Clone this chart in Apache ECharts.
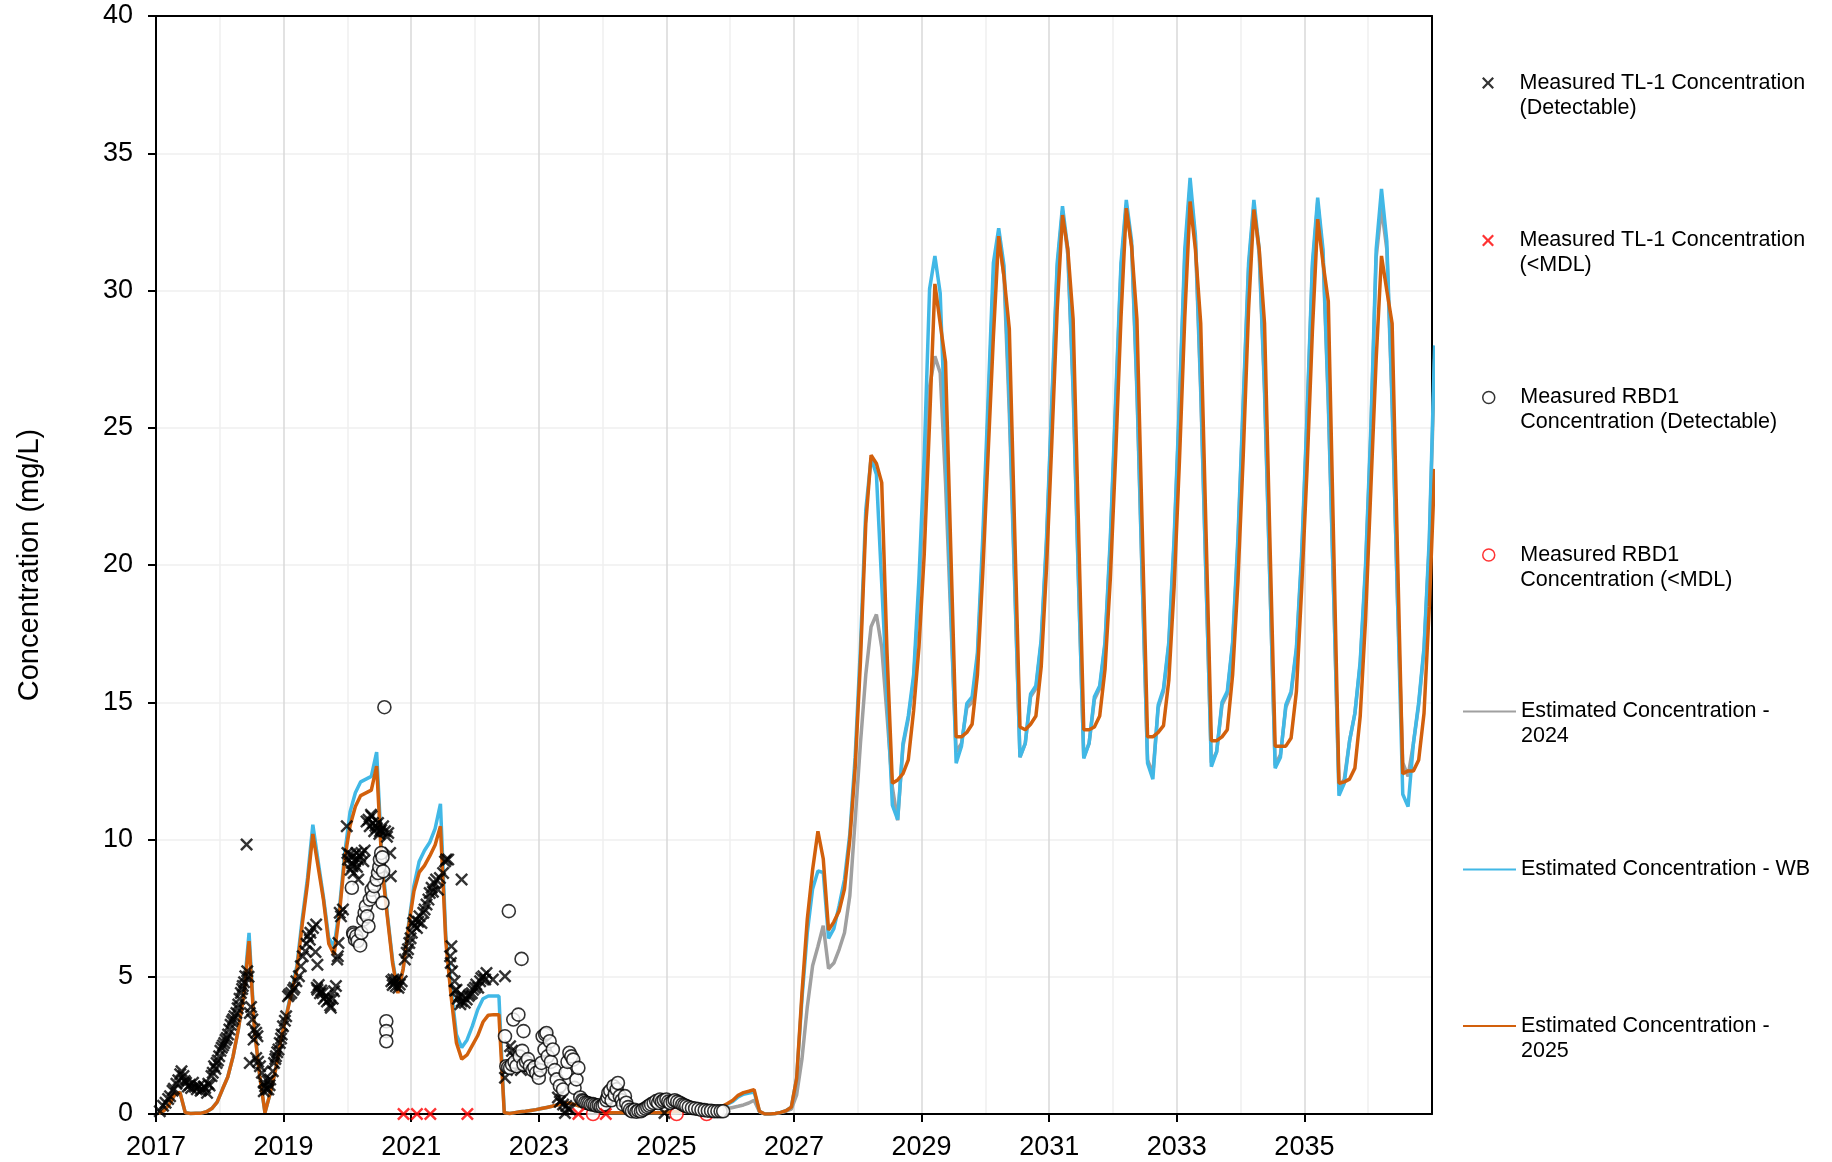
<!DOCTYPE html>
<html>
<head>
<meta charset="utf-8">
<script src="https://cdn.jsdelivr.net/npm/echarts@6/dist/echarts.min.js"></script>
<style>
  html, body { margin: 0; padding: 0; background: #ffffff; }
  #chart { width: 1832px; height: 1162px; }
</style>
</head>
<body>
<div id="chart"></div>
<script>
// ---- Monthly model estimates (mg/L), one value per month, mid-month ----
const EST_START_YEAR = 2017;          // est2025 and estWB start in January 2017
const est2025 = [
  0.02, 0.12, 0.35, 0.70, 0.79, 0.05, 0.02, 0.03, 0.03, 0.08, 0.20, 0.43,   // 2017
  0.90, 1.35, 2.10, 3.10, 4.30, 6.30, 3.10, 1.40, 0.05, 0.77, 1.62, 2.71,   // 2018
  3.56, 4.41, 5.26, 6.90, 8.40, 10.20, 9.00, 7.80, 6.20, 5.80, 7.30, 9.30,  // 2019
  10.50, 11.20, 11.60, 11.70, 11.80, 12.67, 9.00, 7.20, 5.50, 4.40, 5.30, 6.80, // 2020
  8.10, 8.80, 9.05, 9.40, 9.80, 10.48, 6.30, 4.30, 2.60, 2.00, 2.15, 2.50,  // 2021
  2.85, 3.35, 3.60, 3.62, 3.62, 0.05, 0.02, 0.05, 0.08, 0.10, 0.13, 0.16,   // 2022
  0.20, 0.24, 0.28, 0.33, 0.38, 0.40, 0.36, 0.30, 0.24, 0.18, 0.12, 0.08,   // 2023
  0.06, 0.05, 0.05, 0.05, 0.05, 0.05, 0.05, 0.05, 0.05, 0.05, 0.05, 0.06,   // 2024
  0.07, 0.08, 0.09, 0.10, 0.10, 0.10, 0.10, 0.12, 0.15, 0.20, 0.28, 0.38,   // 2025
  0.50, 0.68, 0.78, 0.83, 0.89, 0.10, 0.00, 0.00, 0.02, 0.06, 0.12, 0.25,   // 2026
  1.30, 4.40, 7.10, 8.90, 10.30, 9.30, 6.70, 7.00, 7.40, 8.20, 10.00, 12.60, // 2027
  16.50, 21.50, 24.00, 23.70, 23.00, 16.80, 12.05, 12.17, 12.40, 12.90, 14.70, 17.00, // 2028
  20.40, 25.20, 30.24, 28.80, 27.40, 20.50, 13.74, 13.74, 13.90, 14.20, 16.00, 19.70, // 2029
  24.00, 28.30, 31.98, 30.50, 28.60, 21.30, 14.10, 14.00, 14.20, 14.50, 16.30, 19.90, // 2030
  24.50, 29.30, 32.75, 31.50, 28.96, 21.50, 14.00, 14.00, 14.10, 14.50, 16.20, 19.50, // 2031
  24.00, 29.00, 33.00, 31.60, 28.96, 21.30, 13.74, 13.74, 13.90, 14.15, 15.80, 19.20, // 2032
  23.80, 29.00, 33.24, 31.50, 28.80, 21.20, 13.60, 13.60, 13.74, 14.00, 16.00, 19.40, // 2033
  24.00, 29.30, 32.95, 31.50, 28.80, 21.00, 13.40, 13.40, 13.40, 13.70, 15.40, 19.20, // 2034
  23.50, 28.50, 32.60, 31.00, 29.60, 20.80, 12.05, 12.10, 12.20, 12.60, 14.50, 18.00, // 2035
  22.80, 27.50, 31.26, 30.00, 28.80, 20.50, 12.40, 12.50, 12.50, 12.90, 14.60, 18.50, // 2036
  23.50                                                                      // 2037
];
const estWB = [
  0.02, 0.12, 0.35, 0.70, 0.79, 0.05, 0.02, 0.03, 0.03, 0.08, 0.20, 0.43,   // 2017
  0.90, 1.35, 2.10, 3.10, 4.40, 6.60, 3.20, 1.40, 0.05, 0.77, 1.62, 2.71,   // 2018
  3.60, 4.50, 5.40, 7.10, 8.60, 10.54, 9.20, 7.90, 6.40, 6.10, 7.50, 9.50,  // 2019
  11.00, 11.70, 12.10, 12.20, 12.30, 13.18, 9.30, 7.30, 5.60, 4.45, 5.30, 6.90, // 2020
  8.30, 9.20, 9.60, 9.90, 10.40, 11.30, 6.50, 4.60, 2.90, 2.42, 2.70, 3.20, // 2021
  3.80, 4.20, 4.30, 4.30, 4.30, 0.05, 0.02, 0.05, 0.08, 0.10, 0.13, 0.16,   // 2022
  0.20, 0.24, 0.28, 0.33, 0.38, 0.40, 0.36, 0.30, 0.24, 0.18, 0.12, 0.08,   // 2023
  0.06, 0.05, 0.05, 0.05, 0.05, 0.05, 0.05, 0.05, 0.05, 0.05, 0.05, 0.06,   // 2024
  0.07, 0.08, 0.09, 0.10, 0.10, 0.10, 0.10, 0.12, 0.15, 0.20, 0.27, 0.36,   // 2025
  0.46, 0.62, 0.72, 0.76, 0.80, 0.10, 0.00, 0.00, 0.02, 0.06, 0.12, 0.25,   // 2026
  1.30, 4.20, 6.60, 8.20, 8.85, 8.80, 6.40, 6.75, 7.60, 8.55, 10.20, 13.00, // 2027
  17.00, 22.00, 23.90, 23.30, 19.30, 15.30, 11.25, 10.72, 13.50, 14.50, 16.00, 19.50, // 2028
  24.00, 30.05, 31.26, 29.90, 24.50, 18.50, 12.78, 13.40, 14.95, 15.20, 16.80, 21.00, // 2029
  26.00, 31.00, 32.27, 30.90, 26.00, 19.50, 13.00, 13.50, 15.30, 15.60, 17.30, 21.00, // 2030
  26.00, 31.00, 33.07, 31.50, 26.50, 19.50, 12.95, 13.50, 15.20, 15.60, 17.20, 21.00, // 2031
  26.00, 31.00, 33.30, 31.80, 26.50, 19.50, 12.78, 12.20, 14.90, 15.50, 17.20, 21.00, // 2032
  26.00, 31.50, 34.10, 32.00, 26.50, 19.50, 12.65, 13.20, 15.00, 15.40, 17.20, 21.00, // 2033
  26.00, 31.00, 33.30, 31.50, 26.50, 19.50, 12.60, 13.00, 14.90, 15.40, 17.00, 20.50, // 2034
  25.50, 31.00, 33.38, 31.50, 26.00, 19.00, 11.60, 12.05, 13.60, 14.60, 16.50, 20.00, // 2035
  25.00, 31.50, 33.70, 31.80, 26.00, 18.80, 11.65, 11.20, 13.50, 15.00, 17.00, 21.00, // 2036
  28.00                                                                      // 2037
];
const EST2024_START_YEAR = 2025;      // est2024 starts in January 2025
const est2024 = [
  0.05, 0.05, 0.06, 0.06, 0.07, 0.07, 0.08, 0.09, 0.10, 0.12, 0.16, 0.20,   // 2025
  0.24, 0.28, 0.33, 0.40, 0.50, 0.08, 0.00, 0.00, 0.02, 0.05, 0.10, 0.18,   // 2026
  0.70, 2.00, 3.90, 5.40, 6.10, 6.86, 5.30, 5.50, 6.00, 6.60, 7.95, 10.70,  // 2027
  13.50, 16.00, 17.75, 18.20, 17.00, 14.50, 11.90, 10.70, 13.40, 14.40, 15.80, 19.00, // 2028
  23.00, 26.50, 27.60, 27.00, 23.00, 18.00, 13.20, 13.50, 14.80, 15.00, 16.60, 20.50, // 2029
  25.50, 30.50, 32.00, 30.50, 25.50, 19.30, 13.00, 13.50, 15.20, 15.50, 17.20, 20.80, // 2030
  25.80, 30.80, 32.90, 31.30, 26.30, 19.40, 13.00, 13.50, 15.10, 15.50, 17.10, 20.80, // 2031
  25.80, 30.80, 33.10, 31.60, 26.30, 19.40, 12.90, 12.40, 14.80, 15.40, 17.10, 20.80, // 2032
  25.80, 31.20, 33.80, 31.80, 26.30, 19.40, 12.80, 13.20, 14.90, 15.30, 17.10, 20.80, // 2033
  25.80, 30.80, 33.10, 31.30, 26.30, 19.40, 12.70, 13.10, 14.80, 15.30, 16.90, 20.30, // 2034
  25.30, 30.80, 33.20, 31.30, 25.80, 18.90, 11.90, 12.20, 13.60, 14.60, 16.40, 19.80, // 2035
  24.80, 31.20, 33.00, 31.50, 25.80, 18.80, 12.80, 12.30, 13.50, 14.90, 16.90, 20.80, // 2036
  27.50                                                                      // 2037
];

// ---- Measured samples: [decimal year, concentration mg/L] ----
const tl1Detect = [
  [2017.06,0.10],[2017.11,0.30],[2017.15,0.41],[2017.19,0.55],[2017.22,0.65],[2017.26,0.85],[2017.28,0.92],
  [2017.32,1.10],[2017.35,1.23],[2017.38,1.45],[2017.40,1.56],[2017.43,1.38],[2017.45,1.20],[2017.47,1.14],
  [2017.50,1.00],[2017.53,1.07],[2017.55,0.95],[2017.58,1.14],[2017.61,0.99],[2017.64,0.90],[2017.67,1.01],
  [2017.70,0.85],[2017.72,0.89],[2017.75,1.00],[2017.77,0.95],[2017.80,0.77],[2017.82,1.10],[2017.84,1.04],
  [2017.87,1.38],[2017.89,1.50],[2017.91,1.74],[2017.93,1.65],[2017.95,1.86],[2017.97,1.95],[2017.99,2.10],
  [2018.01,2.30],[2018.03,2.41],[2018.05,2.50],[2018.07,2.59],[2018.09,2.70],[2018.11,2.77],[2018.13,2.90],
  [2018.15,3.08],[2018.17,3.25],[2018.19,3.38],[2018.21,3.45],[2018.23,3.56],[2018.26,3.68],[2018.28,3.85],
  [2018.29,3.99],[2018.31,4.20],[2018.33,4.41],[2018.35,4.55],[2018.36,4.66],[2018.38,4.80],[2018.40,5.02],
  [2018.43,5.20],[2018.42,9.82],[2018.45,5.00],[2018.47,3.68],[2018.49,3.90],[2018.51,3.44],[2018.53,2.71],
  [2018.54,3.08],[2018.57,2.96],[2018.59,2.83],[2018.47,1.86],[2018.57,2.04],[2018.60,1.90],[2018.63,1.74],
  [2018.66,1.50],[2018.69,1.14],[2018.69,0.83],[2018.71,1.01],[2018.73,0.90],[2018.75,1.20],[2018.76,0.89],
  [2018.78,1.05],[2018.79,1.26],[2018.83,1.56],[2018.85,1.86],[2018.87,2.00],[2018.88,2.10],[2018.90,2.25],
  [2018.92,2.35],[2018.94,2.59],[2018.96,2.75],[2018.97,2.90],[2018.99,3.20],[2019.02,3.40],[2019.04,3.56],
  [2019.07,4.29],[2019.09,4.35],[2019.12,4.41],[2019.15,4.53],[2019.17,4.60],[2019.20,4.84],[2019.24,5.02],
  [2019.27,5.38],[2019.30,5.75],[2019.34,5.93],[2019.36,6.20],[2019.38,6.48],[2019.41,6.35],[2019.42,6.60],
  [2019.46,6.78],[2019.51,6.90],[2019.50,5.90],[2019.53,5.44],[2019.52,4.60],[2019.53,4.53],[2019.55,4.70],
  [2019.57,4.40],[2019.59,4.50],[2019.61,4.41],[2019.63,4.20],[2019.66,4.29],[2019.68,4.10],[2019.71,4.17],
  [2019.73,3.95],[2019.74,3.87],[2019.77,4.20],[2019.79,4.47],[2019.82,4.66],[2019.84,5.63],[2019.85,5.75],
  [2019.86,6.23],[2019.88,7.33],[2019.90,7.20],[2019.93,7.45],[2019.99,10.48],[2020.00,9.51],[2020.01,9.27],
  [2020.04,9.45],[2020.05,8.90],[2020.07,9.14],[2020.08,9.03],[2020.09,9.39],[2020.10,8.78],[2020.12,9.21],
  [2020.14,9.51],[2020.15,9.00],[2020.17,9.27],[2020.17,8.54],[2020.20,9.39],[2020.22,9.51],[2020.25,9.21],
  [2020.27,9.60],[2020.30,10.66],[2020.33,10.72],[2020.35,10.48],[2020.37,10.90],[2020.38,10.85],[2020.40,10.60],
  [2020.42,10.30],[2020.44,10.50],[2020.46,10.42],[2020.48,10.60],[2020.50,10.20],[2020.51,10.30],[2020.53,10.35],
  [2020.56,10.48],[2020.59,10.30],[2020.62,10.10],[2020.64,10.24],[2020.67,9.51],[2020.68,8.66],[2020.69,4.84],
  [2020.71,4.70],[2020.72,4.90],[2020.74,4.78],[2020.76,4.65],[2020.77,4.90],[2020.80,4.60],[2020.82,4.72],
  [2020.85,4.84],[2020.90,5.63],[2020.93,5.87],[2020.95,6.00],[2020.97,6.23],[2020.99,6.40],[2021.01,6.60],
  [2021.03,6.96],[2021.05,6.85],[2021.06,7.08],[2021.09,6.78],[2021.11,7.00],[2021.13,7.20],[2021.16,6.96],
  [2021.19,7.33],[2021.21,7.45],[2021.24,7.63],[2021.27,7.81],[2021.29,8.05],[2021.32,8.24],[2021.34,8.10],
  [2021.36,8.42],[2021.39,8.54],[2021.42,8.17],[2021.45,8.60],[2021.50,8.78],[2021.53,9.20],[2021.55,9.27],
  [2021.58,9.27],[2021.79,8.54],[2021.61,5.75],[2021.62,5.50],[2021.63,6.11],[2021.64,5.20],[2021.68,4.84],
  [2021.69,4.50],[2021.71,4.53],[2021.73,4.20],[2021.75,4.29],[2021.77,4.00],[2021.79,4.11],[2021.81,4.29],
  [2021.84,4.05],[2021.87,4.17],[2021.90,4.30],[2021.92,4.35],[2021.95,4.40],[2021.97,4.53],[2022.00,4.60],
  [2022.02,4.72],[2022.05,4.60],[2022.08,4.84],[2022.10,4.95],[2022.13,5.02],[2022.16,4.90],[2022.18,5.14],
  [2022.28,4.90],[2022.47,5.02],[2022.47,1.32],[2022.50,1.60],[2022.55,2.47],[2022.58,2.30],[2022.60,2.11],
  [2022.62,1.74],[2022.65,2.00],[2022.70,1.74],[2022.72,1.60],[2023.30,0.60],[2023.33,0.45],[2023.36,0.53],
  [2023.38,0.35],[2023.41,0.04],[2023.43,0.29],[2023.46,0.20],[2023.49,0.16],[2024.97,0.04]
];
const tl1BelowMdl = [
  [2020.88,0],[2021.09,0],[2021.30,0],[2021.88,0],[2023.62,0],[2024.05,0]
];
const rbd1Detect = [
  [2020.07,8.24],[2020.09,6.60],[2020.10,6.54],[2020.12,6.35],[2020.14,6.48],[2020.16,6.30],[2020.20,6.14],
  [2020.22,6.60],[2020.25,7.08],[2020.27,7.33],[2020.29,7.57],[2020.31,7.20],[2020.33,6.84],[2020.35,7.81],
  [2020.38,8.17],[2020.40,7.93],[2020.42,8.30],[2020.46,8.54],[2020.48,8.78],[2020.50,9.00],[2020.51,9.27],
  [2020.53,9.51],[2020.55,9.35],[2020.56,8.84],[2020.55,7.69],[2020.58,14.82],[2020.61,3.38],[2020.61,3.02],
  [2020.61,2.65],
  [2022.47,2.83],[2022.49,1.74],[2022.52,1.70],[2022.53,7.39],[2022.55,1.68],[2022.58,1.80],[2022.60,3.44],
  [2022.62,1.90],[2022.65,1.74],[2022.68,3.62],[2022.70,2.10],[2022.73,5.65],[2022.74,2.30],[2022.76,3.02],
  [2022.76,1.80],[2022.80,1.90],[2022.83,2.00],[2022.86,1.74],[2022.90,1.60],[2022.93,1.70],[2022.96,1.50],
  [2023.00,1.32],[2023.02,1.60],[2023.04,1.86],[2023.06,2.83],[2023.09,2.35],[2023.10,2.90],[2023.12,2.95],
  [2023.14,2.10],[2023.17,2.65],[2023.19,1.90],[2023.22,2.35],[2023.25,1.60],[2023.28,1.26],[2023.33,1.02],
  [2023.38,0.89],[2023.42,1.50],[2023.45,1.90],[2023.48,2.23],[2023.51,2.10],[2023.54,1.98],[2023.56,0.95],
  [2023.59,1.26],[2023.62,1.68],
  [2023.65,0.60],[2023.68,0.50],[2023.70,0.47],[2023.73,0.42],[2023.76,0.40],[2023.79,0.38],[2023.82,0.35],
  [2023.85,0.36],[2023.88,0.33],[2023.91,0.30],[2023.94,0.32],[2023.97,0.28],[2024.00,0.30],[2024.03,0.35],
  [2024.06,0.50],[2024.08,0.60],[2024.09,0.77],[2024.12,0.85],[2024.14,0.50],[2024.17,1.01],[2024.19,0.70],
  [2024.22,0.90],[2024.24,1.13],[2024.27,0.65],[2024.30,0.50],[2024.32,0.35],[2024.35,0.65],[2024.37,0.41],
  [2024.40,0.25],[2024.43,0.15],[2024.46,0.10],[2024.50,0.15],[2024.53,0.08],[2024.56,0.12],[2024.60,0.10],
  [2024.63,0.15],[2024.67,0.20],[2024.70,0.25],[2024.73,0.30],[2024.76,0.35],[2024.80,0.40],[2024.84,0.47],
  [2024.87,0.40],[2024.90,0.53],[2024.93,0.45],[2024.96,0.50],[2025.00,0.53],[2025.03,0.45],[2025.06,0.40],
  [2025.10,0.45],[2025.13,0.50],[2025.17,0.45],[2025.21,0.41],[2025.25,0.35],[2025.28,0.32],[2025.31,0.29],
  [2025.35,0.25],[2025.40,0.22],[2025.45,0.20],[2025.50,0.18],[2025.55,0.15],[2025.60,0.14],[2025.65,0.12],
  [2025.70,0.12],[2025.75,0.10],[2025.80,0.10],[2025.85,0.10],[2025.89,0.10]
];
const rbd1BelowMdl = [
  [2023.85,0],[2025.16,0],[2025.63,0]
];

// Axis ticks and legend names
const yearTickStep = 2;
const seriesNames = {
  tl1Detect: 'Measured TL-1 Concentration (Detectable)',
  tl1Mdl: 'Measured TL-1 Concentration (<MDL)',
  rbdDetect: 'Measured RBD1 Concentration (Detectable)',
  rbdMdl: 'Measured RBD1 Concentration (<MDL)',
  est2024: 'Estimated Concentration - 2024',
  estWB: 'Estimated Concentration - WB',
  est2025: 'Estimated Concentration - 2025'
};
// Wrapped legend text; a leading blank line keeps the icon level with the first text line
const legendLabels = {
  [seriesNames.tl1Detect]: '\nMeasured TL-1 Concentration\n(Detectable)',
  [seriesNames.tl1Mdl]: '\nMeasured TL-1 Concentration\n(<MDL)',
  [seriesNames.rbdDetect]: '\nMeasured RBD1\nConcentration (Detectable)',
  [seriesNames.rbdMdl]: '\nMeasured RBD1\nConcentration (<MDL)',
  [seriesNames.est2024]: '\nEstimated Concentration -\n2024',
  [seriesNames.estWB]: 'Estimated Concentration - WB',
  [seriesNames.est2025]: '\nEstimated Concentration -\n2025'
};

// Monthly samples sit at the middle of each month
function monthly(startYear, values) {
  return values.map((v, i) => [startYear + (i + 0.5) / 12, v]);
}

const FONT = '"Liberation Sans", Arial, sans-serif';
const X_MARK = 'path://M0,1.6L1.6,0L6,4.4L10.4,0L12,1.6L7.6,6L12,10.4L10.4,12L6,7.6L1.6,12L0,10.4L4.4,6Z';
const ORANGE = '#D2600C';
const BLUE = '#41B8E6';
const GREY = '#A0A0A0';
const RED = '#FF0000';
const LINE_WIDTH = 3.5;

const LEGEND_FONT = 21.5;
const LEGEND_LINE = 25;

function legendFor(name, top, left, extra) {
  return Object.assign({
    show: true,
    data: [name],
    left: left,
    top: top,
    orient: 'vertical',
    padding: 0,
    itemGap: 0,
    itemWidth: 53,
    itemHeight: 10,
    selectedMode: false,
    formatter: n => legendLabels[n],
    textStyle: {
      fontFamily: FONT,
      fontSize: LEGEND_FONT,
      lineHeight: LEGEND_LINE,
      color: '#000'
    }
  }, extra || {});
}
const markerLegendLeft = 1482;
const lineLegendLeft = 1462;
const hideLegendDot = { itemStyle: { opacity: 0 } };

const frameAxis = {
  show: true,
  axisLine: { show: true, onZero: false, lineStyle: { color: '#000', width: 2 } },
  axisTick: { show: false },
  axisLabel: { show: false },
  splitLine: { show: false }
};

const chart = echarts.init(document.getElementById('chart'), null, { renderer: 'canvas' });

chart.setOption({
  animation: false,
  backgroundColor: '#ffffff',
  textStyle: { fontFamily: FONT },
  grid: { left: 156, right: 400, top: 16, bottom: 48, show: false },
  xAxis: [
    {
      type: 'value',
      min: 2017,
      max: 2037,
      interval: yearTickStep,
      axisLine: { show: true, onZero: false, lineStyle: { color: '#000', width: 2 } },
      axisTick: { show: true, inside: false, length: 8, lineStyle: { color: '#000', width: 2 } },
      axisLabel: {
        color: '#000', fontSize: 27, fontFamily: FONT, margin: 20,
        showMaxLabel: false, formatter: v => String(v)
      },
      splitLine: { show: true, showMinLine: false, showMaxLine: false,
        lineStyle: { color: '#d9d9d9', width: 1.5 } },
      minorTick: { show: false, splitNumber: 2 },
      minorSplitLine: { show: true, lineStyle: { color: '#efefef', width: 1.5 } }
    },
    Object.assign({ type: 'value', position: 'top', min: 2017, max: 2037, interval: yearTickStep }, frameAxis)
  ],
  yAxis: [
    {
      type: 'value',
      min: 0,
      max: 40,
      interval: 5,
      name: 'Concentration (mg/L)',
      nameLocation: 'middle',
      nameGap: 112,
      nameTextStyle: { color: '#000', fontSize: 29, fontFamily: FONT },
      axisLine: { show: true, onZero: false, lineStyle: { color: '#000', width: 2 } },
      axisTick: { show: true, inside: false, length: 8, lineStyle: { color: '#000', width: 2 } },
      axisLabel: { color: '#000', fontSize: 27, fontFamily: FONT, margin: 23 },
      splitLine: { show: true, showMinLine: false, showMaxLine: false,
        lineStyle: { color: '#efefef', width: 1.5 } }
    },
    Object.assign({ type: 'value', position: 'right', min: 0, max: 40, interval: 5 }, frameAxis)
  ],
  legend: [
    legendFor(seriesNames.tl1Detect, 45.5, markerLegendLeft, { itemHeight: 12 }),
    legendFor(seriesNames.tl1Mdl, 203, markerLegendLeft, { itemHeight: 12 }),
    legendFor(seriesNames.rbdDetect, 360, markerLegendLeft,
      { itemHeight: 12, itemStyle: { color: '#fff', borderColor: '#000', borderWidth: 1.5 } }),
    legendFor(seriesNames.rbdMdl, 517.5, markerLegendLeft,
      { itemHeight: 12, itemStyle: { color: '#fff', borderColor: RED, borderWidth: 1.5 } }),
    legendFor(seriesNames.est2024, 674, lineLegendLeft, hideLegendDot),
    legendFor(seriesNames.estWB, 857, lineLegendLeft, hideLegendDot),
    legendFor(seriesNames.est2025, 988.5, lineLegendLeft, hideLegendDot)
  ],
  series: [
    {
      name: seriesNames.est2024, type: 'line', z: 2,
      data: monthly(EST2024_START_YEAR, est2024),
      showSymbol: false, symbol: 'none', clip: true,
      lineStyle: { color: GREY, width: LINE_WIDTH }, itemStyle: { color: GREY },
      emphasis: { disabled: true }
    },
    {
      name: seriesNames.estWB, type: 'line', z: 3,
      data: monthly(EST_START_YEAR, estWB),
      showSymbol: false, symbol: 'none', clip: true,
      lineStyle: { color: BLUE, width: LINE_WIDTH }, itemStyle: { color: BLUE },
      emphasis: { disabled: true }
    },
    {
      name: seriesNames.est2025, type: 'line', z: 4,
      data: monthly(EST_START_YEAR, est2025),
      showSymbol: false, symbol: 'none', clip: true,
      lineStyle: { color: ORANGE, width: LINE_WIDTH }, itemStyle: { color: ORANGE },
      emphasis: { disabled: true }
    },
    {
      name: seriesNames.tl1Detect, type: 'scatter', z: 5,
      data: tl1Detect, symbol: X_MARK, symbolSize: 13,
      itemStyle: { color: '#000' }, emphasis: { disabled: true }
    },
    {
      name: seriesNames.rbdMdl, type: 'scatter', z: 6,
      data: rbd1BelowMdl, symbol: 'circle', symbolSize: 13,
      itemStyle: { color: '#fff', borderColor: RED, borderWidth: 1.6 },
      emphasis: { disabled: true }
    },
    {
      name: seriesNames.rbdDetect, type: 'scatter', z: 7,
      data: rbd1Detect, symbol: 'circle', symbolSize: 13,
      itemStyle: { color: '#fff', borderColor: '#000', borderWidth: 1.6 },
      emphasis: { disabled: true }
    },
    {
      name: seriesNames.tl1Mdl, type: 'scatter', z: 8,
      data: tl1BelowMdl, symbol: X_MARK, symbolSize: 13,
      itemStyle: { color: RED }, emphasis: { disabled: true }
    }
  ]
});
</script>
</body>
</html>
